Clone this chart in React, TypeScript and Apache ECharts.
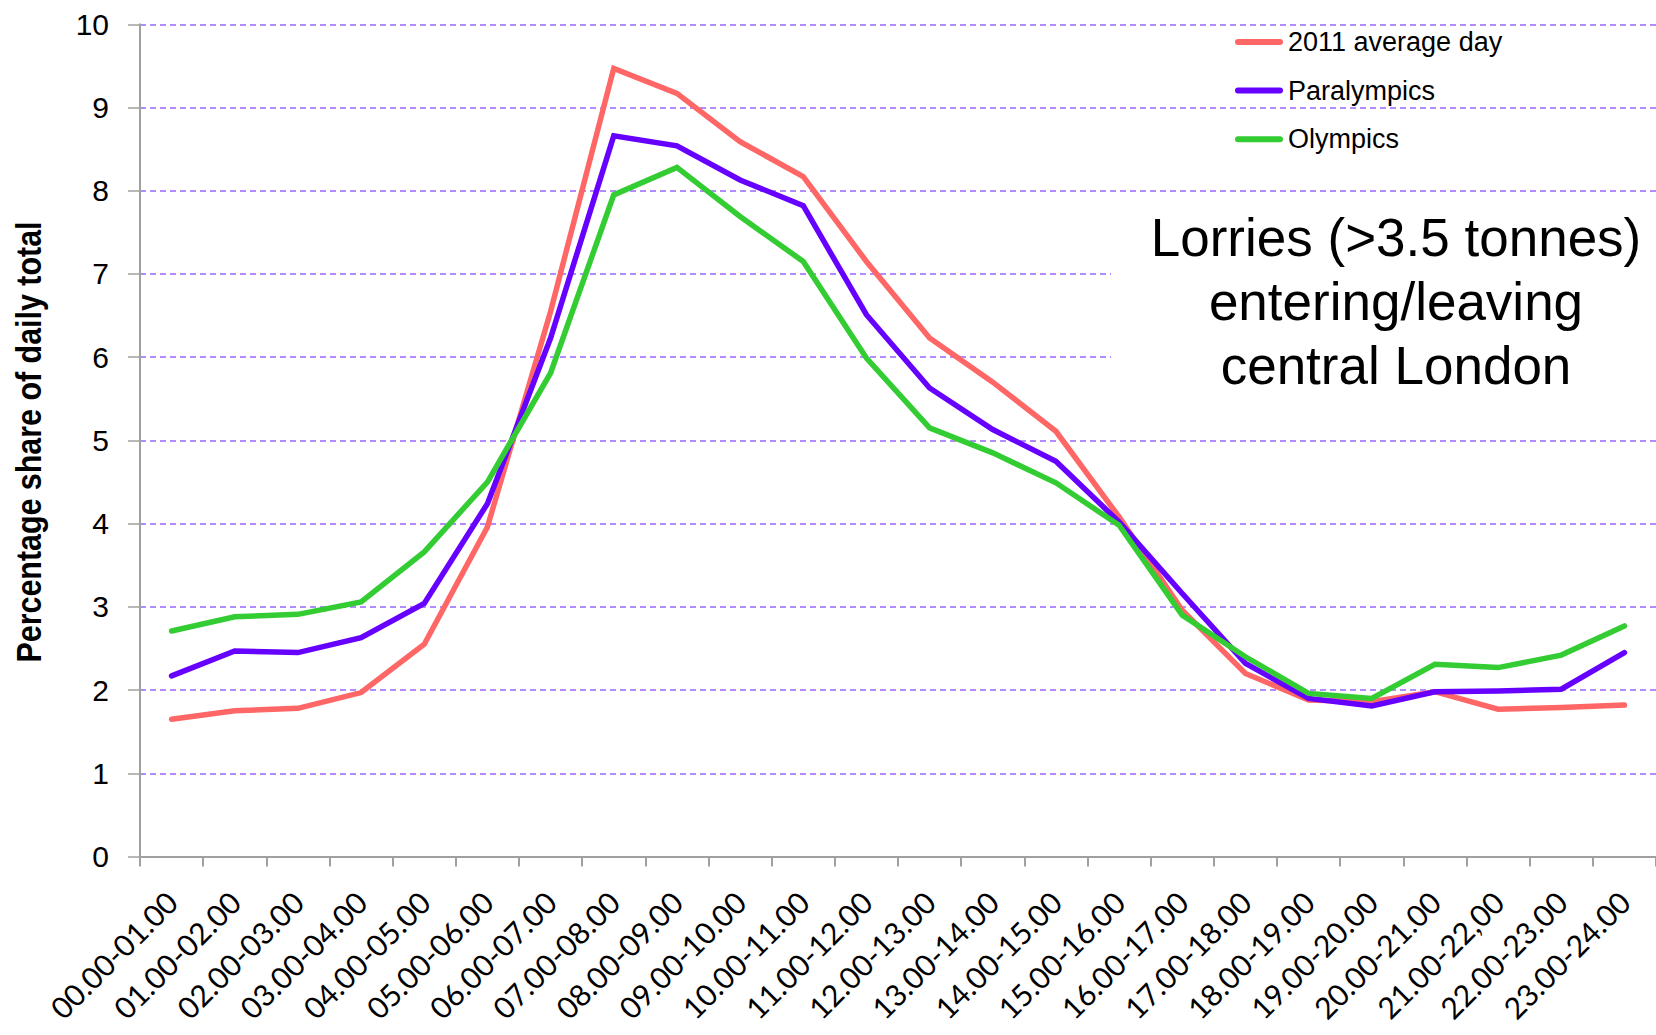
import React, { useEffect, useRef } from "react";
import * as echarts from "echarts";

const categories = [
  "00.00-01.00", "01.00-02.00", "02.00-03.00", "03.00-04.00", "04.00-05.00", "05.00-06.00",
  "06.00-07.00", "07.00-08.00", "08.00-09.00", "09.00-10.00", "10.00-11.00", "11.00-12.00",
  "12.00-13.00", "13.00-14.00", "14.00-15.00", "15.00-16.00", "16.00-17.00", "17.00-18.00",
  "18.00-19.00", "19.00-20.00", "20.00-21.00", "21.00-22,00", "22.00-23.00", "23.00-24.00",
];

const average2011 = [1.65, 1.75, 1.78, 1.97, 2.55, 3.96, 6.55, 9.47, 9.17, 8.59, 8.17, 7.15, 6.23, 5.70, 5.11, 4.08, 2.96, 2.20, 1.88, 1.86, 1.98, 1.77, 1.79, 1.82];
const paralympics = [2.17, 2.47, 2.45, 2.63, 3.04, 4.24, 6.23, 8.66, 8.54, 8.13, 7.82, 6.51, 5.63, 5.13, 4.75, 4.02, 3.16, 2.32, 1.90, 1.81, 1.98, 1.99, 2.01, 2.45];
const olympics = [2.71, 2.88, 2.91, 3.06, 3.66, 4.50, 5.81, 7.95, 8.28, 7.69, 7.15, 5.99, 5.15, 4.85, 4.49, 3.98, 2.90, 2.40, 1.96, 1.90, 2.31, 2.27, 2.42, 2.77];

const seriesNames = ["2011 average day", "Paralympics", "Olympics"];
const seriesColors = ["#ff6666", "#6600ff", "#33cc33"];
const annotationLines = ["Lorries (>3.5 tonnes)", "entering/leaving", "central London"];
const yAxisTitle = "Percentage share of daily total";

export default function App() {
  const ref = useRef<HTMLDivElement>(null);

  useEffect(() => {
    if (!ref.current) return;
    const chart = echarts.init(ref.current, null, { renderer: "svg" });
    const data = [average2011, paralympics, olympics];
    const capsule = "path://M3,0 L45,0 A3,3 0 0 1 45,6 L3,6 A3,3 0 0 1 3,0 Z";
    chart.setOption({
      animation: false,
      backgroundColor: "#ffffff",
      grid: { left: 140, right: 0, top: 24.3, bottom: 178.5, containLabel: false, outerBoundsMode: "none" },
      legend: {
        orient: "vertical",
        left: 1235,
        top: 28,
        padding: 0,
        itemGap: 20.6,
        itemWidth: 48,
        itemHeight: 6,
        icon: capsule,
        textStyle: { fontSize: 27, lineHeight: 28, color: "#000", fontFamily: "Liberation Sans, Arial, sans-serif", padding: [0, 0, 0, 0] },
        data: seriesNames,
      },
      xAxis: {
        type: "category",
        data: categories,
        boundaryGap: true,
        axisLine: { show: true, lineStyle: { color: "#a0a0a0", width: 2 } },
        axisTick: { show: true, interval: 0, length: 10, lineStyle: { color: "#a0a0a0", width: 2 } },
        axisLabel: {
          interval: 0,
          rotate: 45,
          margin: 40,
          fontSize: 30,
          color: "#000",
          fontFamily: "Lato, Open Sans, sans-serif",
        },
        splitLine: { show: false },
      },
      yAxis: {
        type: "value",
        min: 0,
        max: 10,
        interval: 1,
        axisLine: { show: true, lineStyle: { color: "#a0a0a0", width: 2 } },
        axisTick: { show: true, length: 12, lineStyle: { color: "#a0a0a0", width: 1.5 } },
        axisLabel: { margin: 31, fontSize: 30, color: "#000", fontFamily: "Liberation Sans, Arial, sans-serif" },
        splitLine: { show: true, lineStyle: { color: "#9966ff", width: 1.5, type: [6, 4] } },
      },
      graphic: [
        {
          type: "rect",
          z: 1,
          shape: { x: 1111, y: 197, width: 545, height: 236 },
          style: { fill: "#ffffff" },
        },
        {
          type: "text",
          z: 3,
          x: 1396,
          y: 301,
          style: {
            text: annotationLines.join("\n"),
            fontSize: 53,
            lineHeight: 64,
            fontFamily: "Liberation Sans, Arial, sans-serif",
            fill: "#000",
            align: "center",
            verticalAlign: "middle",
          },
        },
        {
          type: "text",
          z: 3,
          x: 28.5,
          y: 442,
          rotation: Math.PI / 2,
          scaleX: 0.845,
          style: {
            text: yAxisTitle,
            fontSize: 36,
            fontWeight: "bold",
            fontFamily: "Liberation Sans, Arial, sans-serif",
            fill: "#000",
            align: "center",
            verticalAlign: "middle",
          },
        },
      ],
      series: seriesNames.map((name, i) => ({
        name,
        type: "line",
        data: data[i],
        showSymbol: false,
        symbol: "none",
        z: 4,
        lineStyle: { color: seriesColors[i], width: 5.5, cap: "round", join: "miter" },
        itemStyle: { color: seriesColors[i] },
      })),
    });
    return () => chart.dispose();
  }, []);

  return <div ref={ref} style={{ position: "fixed", left: 0, top: 0, width: 1656, height: 1035 }} />;
}
